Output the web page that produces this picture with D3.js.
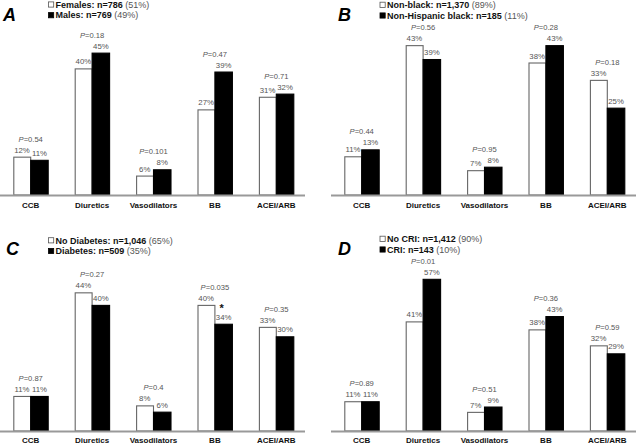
<!DOCTYPE html>
<html><head><meta charset="utf-8">
<script src="https://cdn.jsdelivr.net/npm/d3@7"></script>
<style>
body{margin:0;background:#fff;}
svg{display:block;font-family:"Liberation Sans",Arial,sans-serif;}
</style></head>
<body><svg id="c" width="638" height="444"></svg>
<script>
const categories = ["CCB","Diuretics","Vasodilators","BB","ACEI/ARB"];

const panelLetters = ["A","B","C","D"];
const legendBold1 = ["Females: n=786","Non-black: n=1,370","No Diabetes: n=1,046","No CRI: n=1,412"];
const legendPct1  = ["(51%)","(89%)","(65%)","(90%)"];
const legendBold2 = ["Males: n=769","Non-Hispanic black: n=185","Diabetes: n=509","CRI: n=143"];
const legendPct2  = ["(49%)","(11%)","(35%)","(10%)"];

const seriesA1 = [12,40,6,27,31];
const seriesA2 = [11,45,8,39,32];
const pA = ["0.54","0.18","0.101","0.47","0.71"];

const seriesB1 = [11,43,7,38,33];
const seriesB2 = [13,39,8,43,25];
const pB = ["0.44","0.56","0.95","0.28","0.18"];

const seriesC1 = [11,44,8,40,33];
const seriesC2 = [11,40,6,34,30];
const pC = ["0.87","0.27","0.4","0.035","0.35"];

const seriesD1 = [11,41,7,38,32];
const seriesD2 = [11,57,9,43,29];
const pD = ["0.89","0.01","0.51","0.36","0.59"];

const significant = [[],[],["BB"],[]];
const yMax = [49.8,45.2,50,59];

const s1 = [seriesA1,seriesB1,seriesC1,seriesD1];
const s2 = [seriesA2,seriesB2,seriesC2,seriesD2];
const pv = [pA,pB,pC,pD];

// layout
const layout = [
  {x0:0,   x1:307, base:195, lx:48.5,  ly:4.5,  letX:3,  letY:20.5},
  {x0:331, x1:638, base:195, lx:380,   ly:4.8,  letX:338,letY:20.5},
  {x0:0,   x1:307, base:431, lx:48.5,  ly:240.3,letX:6,  letY:255},
  {x0:331, x1:638, base:431, lx:380,   ly:238.8,letX:338,letY:255}
];
const plotH = 157;
const barW = 17.5;
const svg = d3.select("#c");

layout.forEach((L,i)=>{
  const g = svg.append("g");
  const x = d3.scaleBand().domain(categories).range([L.x0, L.x1]).padding(0);
  const xs = d3.scaleBand().domain([0,1]).range([x.bandwidth()/2 - barW, x.bandwidth()/2 + barW]).padding(0);
  const y = d3.scaleLinear().domain([0,yMax[i]]).range([L.base, L.base - plotH]);

  // panel letter
  g.append("text").attr("x",L.letX).attr("y",L.letY)
    .attr("font-size",18).attr("font-weight","bold").attr("font-style","italic")
    .attr("fill","#000").text(panelLetters[i]);

  // legend
  [[legendBold1[i],legendPct1[i],"#fff"],[legendBold2[i],legendPct2[i],"#000"]].forEach((d,k)=>{
    const cy = L.ly + k*10.7;
    g.append("rect").attr("x",L.lx).attr("y",cy-2.6).attr("width",5.2).attr("height",5.2)
      .attr("fill",d[2]).attr("stroke",k===0?"#555":"#000").attr("stroke-width",0.8);
    const t = g.append("text").attr("x",L.lx+7).attr("y",cy+3.2).attr("font-size",9);
    t.append("tspan").attr("font-weight","bold").attr("fill","#111").text(d[0]);
    t.append("tspan").attr("fill","#555").text(" "+d[1]);
  });

  const data = categories.map((c,j)=>({c, v:[s1[i][j], s2[i][j]], p:pv[i][j]}));
  const grp = g.selectAll("g.grp").data(data).join("g").attr("class","grp")
    .attr("transform",d=>`translate(${x(d.c)},0)`);

  grp.selectAll("rect").data(d=>d.v.map((v,k)=>({v,k}))).join("rect")
    .attr("x",d=>xs(d.k)+(d.k===0?0.6:0))
    .attr("width",d=>barW-(d.k===0?0.6:0))
    .attr("y",d=>y(d.v))
    .attr("height",d=>L.base - y(d.v))
    .attr("fill",d=>d.k===0?"#fff":"#000")
    .attr("stroke",d=>d.k===0?"#666":"#000")
    .attr("stroke-width",1.1);

  grp.selectAll("text.pct").data(d=>d.v.map((v,k)=>({v,k}))).join("text").attr("class","pct")
    .attr("x",d=>xs(d.k)+barW/2)
    .attr("y",d=>y(d.v)-4.5)
    .attr("text-anchor","middle").attr("font-size",7.8).attr("fill","#555")
    .text(d=>d.v+"%");

  // asterisk
  grp.filter(d=>significant[i].includes(d.c)).append("text")
    .attr("x",xs(1)+barW/2-2)
    .attr("y",d=>y(d.v[1])-12)
    .attr("text-anchor","middle").attr("font-size",11).attr("font-weight","bold").attr("fill","#111")
    .text("*");

  // P label
  const pt = grp.append("text")
    .attr("x",x.bandwidth()/2)
    .attr("y",d=>y(Math.max(d.v[0],d.v[1]))-4.5-11)
    .attr("text-anchor","middle").attr("font-size",7.6).attr("fill","#555");
  pt.append("tspan").attr("font-style","italic").text("P");
  pt.append("tspan").text(d=>"="+d.p);

  // axis line
  g.append("line").attr("x1",L.x0).attr("x2",L.x1-2).attr("y1",L.base+0.5).attr("y2",L.base+0.5)
    .attr("stroke","#999").attr("stroke-width",2);

  // category labels
  g.selectAll("text.cat").data(categories).join("text").attr("class","cat")
    .attr("x",d=>x(d)+x.bandwidth()/2)
    .attr("y",Math.min(L.base+13.3, 442.8))
    .attr("text-anchor","middle").attr("font-size",8).attr("font-weight","bold").attr("fill","#111")
    .text(d=>d);
});
</script></body></html>
